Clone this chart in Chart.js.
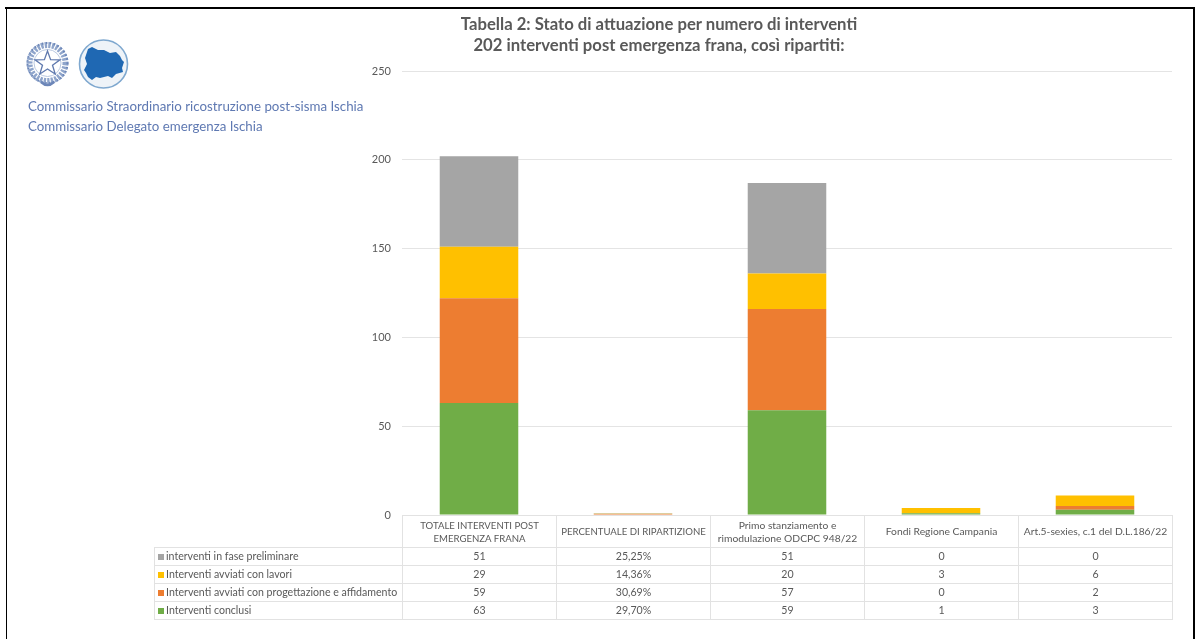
<!DOCTYPE html>
<html>
<head>
<meta charset="utf-8">
<script src="https://cdn.jsdelivr.net/npm/chart.js@4"></script>
<style>
  html, body { margin: 0; padding: 0; background: #fff; }
  body { width: 1195px; height: 639px; position: relative; overflow: hidden; font-family: Lato, sans-serif; color: #595959; }
  #wrap { position: absolute; left: 0; top: 0; width: 1195px; height: 639px; filter: blur(0.3px); }
  .frame { position: absolute; background: #000; }
  h1 { position: absolute; left: 359px; top: 14px; width: 600px; margin: 0; text-align: center; font-size: 16.7px; line-height: 21px; font-weight: 700; color: #595959; filter: blur(0.35px); }
  .org { position: absolute; left: 28px; font-size: 13.3px; color: #5f79b2; white-space: nowrap; filter: blur(0.35px); }
  table { position: absolute; left: 154px; top: 515px; border-collapse: collapse; table-layout: fixed; width: 1018px; font-size: 10.6px; filter: blur(0.3px); }
  td { border: 1px solid #e2e2e2; text-align: center; padding: 0; height: 17px; line-height: 13px; white-space: nowrap; }
  td.name { text-align: left; padding-left: 3px; }
  tr.head td { height: 31px; font-size: 10.3px; }
  tr.head td.caps { font-size: 9.6px; }
  tr.head td.blank { border: none; border-bottom: 1px solid #e2e2e2; }
  .key { display: inline-block; width: 6px; height: 6px; margin-right: 2px; }
  svg { position: absolute; left: 0; top: 0; filter: blur(0.5px); }
</style>
</head>
<body>
<div id="wrap"><canvas id="chart" width="1195" height="639"></canvas></div>
<div class="frame" style="left:5px;top:7px;width:1189px;height:1.5px"></div>
<div class="frame" style="left:5px;top:7px;width:15px;height:2.2px"></div>
<div class="frame" style="left:1181px;top:7px;width:13px;height:2.2px"></div>
<div class="frame" style="left:5.5px;top:7px;width:1.5px;height:632px"></div>
<div class="frame" style="left:1193px;top:7px;width:1.5px;height:632px"></div>

<svg width="140" height="95" viewBox="0 0 140 95">
  <circle cx="47.5" cy="63" r="18" fill="none" stroke="#8fa5cb" stroke-width="6" stroke-dasharray="2.5 1.2"/>
  <circle cx="47.5" cy="63" r="20" fill="none" stroke="#6c86b8" stroke-width="2" stroke-dasharray="1.5 2.5"/>
  <circle cx="47.5" cy="63" r="13.5" fill="none" stroke="#b9c8e0" stroke-width="1"/>
  <polygon points="47.5,51 50.6,59.6 60,59.8 52.5,65.3 55.2,74 47.5,69 39.8,74 42.5,65.3 35,59.8 44.4,59.6" fill="#fff" stroke="#5f79ae" stroke-width="1.3"/>
  <path d="M41 82 Q47.5 88 54 82" fill="none" stroke="#6c86b8" stroke-width="2.5"/>
  <circle cx="103.5" cy="64" r="24" fill="#eef3f8" stroke="#7fa8cf" stroke-width="1.6"/>
  <path d="M88 49 L92 47 L98 50 L104 50 L110 53 L116 52 L120 56 L122 60 L124 62 L122 68 L123 72 L116 74 L112 78 L108 76 L100 78 L96 77 L92 80 L88 77 L86 73 L84 70 L87 64 L85 58 Z" fill="#1f68b3"/>
</svg>

<h1>Tabella 2: Stato di attuazione per numero di interventi<br>202 interventi post emergenza frana, così ripartiti:</h1>
<div class="org" style="top:98px">Commissario Straordinario ricostruzione post-sisma Ischia</div>
<div class="org" style="top:118px">Commissario Delegato emergenza Ischia</div>

<table id="tbl"></table>

<script>
const categories = [
  ['TOTALE INTERVENTI POST', 'EMERGENZA FRANA'],
  ['PERCENTUALE DI RIPARTIZIONE'],
  ['Primo stanziamento e', 'rimodulazione ODCPC 948/22'],
  ['Fondi Regione Campania'],
  ['Art.5-sexies, c.1 del D.L.186/22']
];
const conclusi = [63, 0.297, 59, 1, 3];
const progettazione = [59, 0.3069, 57, 0, 2];
const lavori = [29, 0.1436, 20, 3, 6];
const preliminare = [51, 0.2525, 51, 0, 0];
const yTicks = [0, 50, 100, 150, 200, 250];

const names = ['Interventi conclusi', 'Interventi avviati con progettazione e affidamento', 'Interventi avviati con lavori', 'interventi in fase preliminare'];
const colors = ['#70ad47', '#ed7d31', '#ffc000', '#a5a5a5'];
const values = [conclusi, progettazione, lavori, preliminare];

const italian = v => v.toFixed(2).replace('.', ',') + '%';

new Chart(document.getElementById('chart'), {
  type: 'bar',
  data: {
    labels: categories.map(c => c.join(' ')),
    datasets: values.map((v, i) => ({ label: names[i], data: v, backgroundColor: colors[i], borderWidth: 0 }))
  },
  options: {
    responsive: false,
    animation: false,
    layout: { padding: { left: 0, right: 23, top: 71, bottom: 124 } },
    plugins: { legend: { display: false }, tooltip: { enabled: false }, title: { display: false } },
    datasets: { bar: { categoryPercentage: 1, barPercentage: 0.51 } },
    scales: {
      x: { stacked: true, display: false },
      y: {
        stacked: true,
        min: 0,
        max: 250,
        afterBuildTicks: s => { s.ticks = yTicks.map(value => ({ value })); },
        afterFit: s => { s.width = 402; },
        ticks: { color: '#595959', padding: 11, font: { family: 'Lato', size: 11 } },
        grid: { color: '#e4e4e4', drawTicks: false },
        border: { display: false }
      }
    }
  }
});

// data table under the chart, top row of the table is the category names
let rows = '<colgroup><col style="width:248px">' + categories.map(() => '<col style="width:154px">').join('') + '</colgroup>';
rows += '<tr class="head"><td class="blank"></td>' + categories.map((c, k) => '<td' + (k < 2 ? ' class="caps"' : '') + '>' + c.join('<br>') + '</td>').join('') + '</tr>';
for (let i = values.length - 1; i >= 0; i--) {
  rows += '<tr><td class="name"><span class="key" style="background:' + colors[i] + '"></span>' + names[i] + '</td>';
  rows += values[i].map((v, k) => '<td>' + (k === 1 ? italian(v * 100) : v) + '</td>').join('') + '</tr>';
}
document.getElementById('tbl').innerHTML = rows;
</script>
</body>
</html>
